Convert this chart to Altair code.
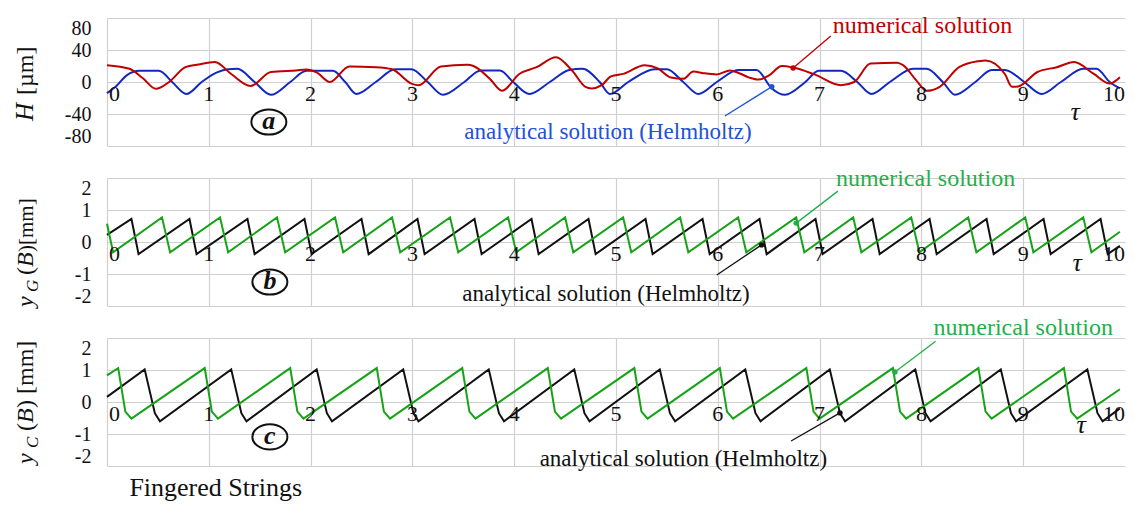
import altair as alt
import pandas as pd

FONT = "Liberation Serif"
RED = "#c00000"
BLUE = "#1028c0"
BLUE_TXT = "#2152d4"
GREEN = "#17a317"
GREEN_TXT = "#1fb04a"
BLACK = "#111111"
GRID = "#d0d0d0"

# ---------------- data ----------------
tick_values = [0, 1, 2, 3, 4, 5, 6, 7, 8, 9, 10]
tick_labels = ["0", "1", "2", "3", "4", "5", "6", "7", "8", "9", "10"]
grid_values = [0, 1, 2, 3, 4, 5, 6, 7, 8, 9]
a_y_ticks = [-80, -40, 0, 40, 80]
bc_y_ticks = [-2, -1, 0, 1, 2]

# panel a : H [um]
a_tau_analytical = [0.00, 0.10, 0.19, 0.32, 0.51, 0.64, 0.78, 0.93, 1.08, 1.19, 1.28, 1.45, 1.61, 1.80,
                    1.96, 2.22, 2.34, 2.45, 2.64, 2.83, 2.99, 3.15, 3.30, 3.51, 3.67, 3.86, 3.99, 4.15,
                    4.35, 4.54, 4.67, 4.84, 4.94, 5.12, 5.38, 5.50, 5.66, 5.81, 5.99, 6.20, 6.38, 6.53,
                    6.66, 6.86, 6.99, 7.21, 7.37, 7.51, 7.69, 7.92, 8.05, 8.21, 8.33, 8.53, 8.69, 8.82,
                    9.01, 9.18, 9.37, 9.59, 9.72, 9.85, 9.95]
a_H_analytical = [-14, -4, 8, 14, 14, 0, -15, 0, 12, 16, 16.5, 0, -16, 0,
                  14, 14, 0, -15, 0, 16, 16, 0, -16, 0, 14.5, 14.5, 0, -15,
                  0, 15, 16.5, 0, -15, 0, 16, 16, 0, -15, 0, 15, 15, -8,
                  -16, 0, 14, 14, 0, -15, 0, 16.5, 16.5, 0, -16, 0, 15, 15,
                  0, -15, 0, 16.5, 16.5, 0, -8]
a_tau_numerical = [0.00, 0.22, 0.35, 0.48, 0.61, 0.77, 0.90, 1.06, 1.22, 1.41, 1.61, 1.86, 1.96, 2.06,
                   2.19, 2.38, 2.64, 2.80, 2.99, 3.06, 3.28, 3.54, 3.60, 3.76, 3.88, 4.05, 4.22, 4.41,
                   4.57, 4.70, 4.76, 4.86, 4.95, 5.08, 5.28, 5.41, 5.54, 5.66, 5.76, 5.86, 5.99, 6.12,
                   6.21, 6.31, 6.40, 6.50, 6.63, 6.74, 6.95, 7.21, 7.34, 7.50, 7.76, 7.82, 7.95, 8.05,
                   8.18, 8.37, 8.56, 8.63, 8.82, 8.89, 8.95, 9.14, 9.33, 9.50, 9.69, 9.85, 9.95]
a_H_numerical = [21, 16.5, 5, -8.5, 0, 18.5, 22, 25, 10, -5, 12.5, 14.5, 15.5, 12,
                 0, 19.5, 18.5, 16, -2, -4, 19.5, 21.5, 20, 4, -11, 10, 18.5, 31,
                 14, -6, -8, -4, 7, 10.5, 21, 17, 5.5, 4, 13, 11, 9.5, 14.5,
                 11, 5.5, 3, 8, 20, 18, 9.5, -4, 0, 23, 24, 21, 2, -11,
                 -6, 18.5, 26, 27, 10, -6, -5.5, 12.5, 18.5, 25, 10.5, -2, 6]

# panel b : y_G(B) [mm]
b_tau_analytical = [0.00, 0.24, 0.31, 0.81, 0.88, 1.38, 1.45, 1.94, 2.01, 2.50, 2.57, 3.05, 3.12,
                    3.61, 3.68, 4.17, 4.24, 4.73, 4.80, 5.29, 5.36, 5.85, 5.92, 6.41, 6.48, 6.96,
                    7.03, 7.52, 7.59, 8.08, 8.15, 8.64, 8.71, 9.20, 9.27, 9.76, 9.83, 9.95]
b_y_analytical = [0.22, 0.72, -0.38, 0.72, -0.38, 0.72, -0.38, 0.72, -0.38, 0.72, -0.38, 0.72, -0.38,
                  0.72, -0.38, 0.72, -0.38, 0.72, -0.38, 0.72, -0.38, 0.72, -0.38, 0.72, -0.38, 0.72,
                  -0.38, 0.72, -0.38, 0.72, -0.38, 0.72, -0.38, 0.72, -0.38, 0.72, -0.38, -0.12]
b_tau_numerical = [0.00, 0.06, 0.54, 0.62, 1.11, 1.19, 1.67, 1.75, 2.24, 2.32, 2.80, 2.88, 3.37,
                   3.45, 3.94, 4.02, 4.50, 4.58, 5.07, 5.15, 5.63, 5.71, 6.20, 6.28, 6.77, 6.85,
                   7.33, 7.41, 7.90, 7.98, 8.46, 8.54, 9.02, 9.10, 9.59, 9.67, 9.95]
b_y_numerical = [0.57, -0.32, 0.77, -0.32, 0.77, -0.32, 0.77, -0.32, 0.77, -0.32, 0.77, -0.32, 0.77,
                 -0.32, 0.77, -0.32, 0.77, -0.32, 0.77, -0.32, 0.77, -0.32, 0.77, -0.32, 0.77, -0.32,
                 0.77, -0.32, 0.77, -0.32, 0.77, -0.32, 0.77, -0.32, 0.77, -0.32, 0.32]

# panel c : y_C(B) [mm]
c_tau_analytical = [0.00, 0.37, 0.47, 0.52, 1.22, 1.32, 1.37, 2.06, 2.16, 2.21, 2.91, 3.01, 3.06,
                    3.75, 3.85, 3.90, 4.59, 4.69, 4.74, 5.43, 5.53, 5.58, 6.27, 6.37, 6.42, 7.10,
                    7.20, 7.25, 7.94, 8.04, 8.09, 8.78, 8.88, 8.93, 9.63, 9.73, 9.78, 9.95]
c_y_analytical = [0.16, 1.02, -0.35, -0.60, 1.02, -0.35, -0.60, 1.02, -0.35, -0.60, 1.02, -0.35, -0.60,
                  1.02, -0.35, -0.60, 1.02, -0.35, -0.60, 1.02, -0.35, -0.60, 1.02, -0.35, -0.60, 1.02,
                  -0.35, -0.60, 1.02, -0.35, -0.60, 1.02, -0.35, -0.60, 1.02, -0.35, -0.60, -0.20]
c_tau_numerical = [0.00, 0.11, 0.18, 0.24, 0.96, 1.03, 1.09, 1.80, 1.87, 1.93, 2.65, 2.72, 2.78,
                   3.49, 3.56, 3.62, 4.33, 4.40, 4.46, 5.18, 5.25, 5.31, 6.02, 6.09, 6.15, 6.87,
                   6.94, 7.00, 7.72, 7.79, 7.85, 8.56, 8.63, 8.69, 9.40, 9.47, 9.53, 9.95]
c_y_numerical = [0.83, 1.06, -0.30, -0.52, 1.06, -0.30, -0.52, 1.06, -0.30, -0.52, 1.06, -0.30, -0.52,
                 1.06, -0.30, -0.52, 1.06, -0.30, -0.52, 1.06, -0.30, -0.52, 1.06, -0.30, -0.52, 1.06,
                 -0.30, -0.52, 1.06, -0.30, -0.52, 1.06, -0.30, -0.52, 1.06, -0.30, -0.52, 0.40]

# annotations (data coordinates: tau, value)
NUM = "numerical solution"
ANA = "analytical solution (Helmholtz)"
a_notes = [(7.13, 70, NUM, RED, 24), (3.51, -63, ANA, BLUE_TXT, 23)]
a_pointers = [(7.11, 57.5, 6.74, 17.5, RED), (6.07, -42.5, 6.53, -6, BLUE_TXT)]
b_notes = [(7.16, 1.97, NUM, GREEN_TXT, 24), (3.49, -1.63, ANA, BLACK, 23)]
b_pointers = [(7.18, 1.59, 6.77, 0.59, GREEN_TXT), (5.99, -1.03, 6.43, -0.09, BLACK)]
c_notes = [(8.12, 2.31, NUM, GREEN_TXT, 24), (4.25, -1.78, ANA, BLACK, 23)]
c_pointers = [(8.14, 1.9, 7.74, 0.94, GREEN_TXT), (6.72, -1.22, 7.20, -0.34, BLACK)]

a_title = [("H", True, 25, 103, 0), ("[µm]", False, 24, 77, 0)]
b_title = [("y", True, 24, 129, 0), ("G", True, 17, 114, 5), ("(", False, 24, 97, 0),
           ("B", True, 24, 89, 0), (")[mm]", False, 21, 74, 0)]
c_title = [("y", True, 24, 126, 0), ("C", True, 17, 110, 5), ("(", False, 24, 93, 0),
           ("B", True, 24, 85, 0), (") [mm]", False, 24, 70, 0)]

W, H = 1018, 128
ELLIPSE = "M-1,0A1,0.72,0,1,1,1,0A1,0.72,0,1,1,-1,0Z"


def panel(y_domain, y_ticks, lines, interp, notes, pointers, letter, letter_pos, tau_pos,
          title_pieces, footer=None):
    xs = alt.Scale(domain=[0, 10], nice=False, zero=False)
    ys = alt.Scale(domain=y_domain, nice=False, zero=False)
    x_axis = alt.Axis(values=grid_values, grid=True, gridColor=GRID, gridWidth=1.2, labels=False,
                      ticks=False, domain=False, title=None)
    y_axis = alt.Axis(values=y_ticks, grid=True, gridColor=GRID, gridWidth=1.2, ticks=False,
                      domain=False, title=None, labelFont=FONT, labelFontSize=20, labelColor=BLACK,
                      labelPadding=16, labelFlush=True, labelOverlap=False,
                      labelExpr="datum.value + ''")

    def X():
        return alt.X("tau:Q", scale=xs, axis=x_axis)

    def Y():
        return alt.Y("v:Q", scale=ys, axis=y_axis)

    layers = []
    for (taus, vals, color) in lines:
        df = pd.DataFrame({"tau": taus, "v": vals})
        layers.append(
            alt.Chart(df).mark_line(color=color, strokeWidth=2, interpolate=interp).encode(
                x=X(), y=Y())
        )

    # x tick labels sitting on the zero line
    tdf = pd.DataFrame({"tau": tick_values, "v": [0] * len(tick_values), "t": tick_labels})
    common = dict(font=FONT, fontSize=22, color=BLACK, baseline="top", dy=2)
    layers.append(alt.Chart(tdf.iloc[:1]).mark_text(align="left", dx=2, **common)
                  .encode(x=X(), y=Y(), text="t:N"))
    layers.append(alt.Chart(tdf.iloc[1:-1]).mark_text(align="center", **common)
                  .encode(x=X(), y=Y(), text="t:N"))
    layers.append(alt.Chart(tdf.iloc[-1:]).mark_text(align="right", **common)
                  .encode(x=X(), y=Y(), text="t:N"))

    # annotations
    for (tx, ty, txt, color, size) in notes:
        ndf = pd.DataFrame({"tau": [tx], "v": [ty], "t": [txt]})
        layers.append(alt.Chart(ndf).mark_text(align="left", baseline="middle", font=FONT,
                                               fontSize=size, color=color)
                      .encode(x=X(), y=Y(), text="t:N"))
    for (x1, y1, x2, y2, color) in pointers:
        pdf = pd.DataFrame({"tau": [x1], "v": [y1], "tau2": [x2], "v2": [y2]})
        layers.append(alt.Chart(pdf).mark_rule(color=color, strokeWidth=1.3)
                      .encode(x=X(), y=Y(), x2="tau2:Q", y2="v2:Q"))
        ddf = pd.DataFrame({"tau": [x2], "v": [y2]})
        layers.append(alt.Chart(ddf).mark_point(filled=True, size=30, color=color, opacity=1)
                      .encode(x=X(), y=Y()))

    # circled panel letter
    cdf = pd.DataFrame({"tau": [letter_pos[0]], "v": [letter_pos[1]], "t": [letter]})
    layers.append(alt.Chart(cdf).mark_point(shape=ELLIPSE, size=35 * 35, filled=False,
                                            strokeWidth=2, color=BLACK, opacity=1)
                  .encode(x=X(), y=Y()))
    layers.append(alt.Chart(cdf).mark_text(font=FONT, fontSize=26, fontStyle="italic",
                                           fontWeight="bold", color=BLACK, baseline="middle",
                                           align="center", dy=-1)
                  .encode(x=X(), y=Y(), text="t:N"))

    # tau label
    tdf2 = pd.DataFrame({"tau": [tau_pos[0]], "v": [tau_pos[1]], "t": ["τ"]})
    layers.append(alt.Chart(tdf2).mark_text(font=FONT, fontSize=26, fontStyle="italic",
                                            color=BLACK, baseline="middle", align="center")
                  .encode(x=X(), y=Y(), text="t:N"))

    # y title composed of pieces (italics / subscripts)
    for (txt, italic, size, rel_y, dx) in title_pieces:
        pdf = pd.DataFrame({"t": [txt]})
        layers.append(alt.Chart(pdf).mark_text(angle=270, align="left", baseline="alphabetic",
                                               font=FONT, fontSize=size,
                                               fontStyle="italic" if italic else "normal",
                                               color=BLACK)
                      .encode(x=alt.value(-74 + dx), y=alt.value(rel_y), text="t:N"))

    if footer is not None:
        fdf = pd.DataFrame({"tau": [footer[0]], "v": [footer[1]], "t": [footer[2]]})
        layers.append(alt.Chart(fdf).mark_text(font=FONT, fontSize=26, color=BLACK,
                                               align="left", baseline="alphabetic")
                      .encode(x=X(), y=Y(), text="t:N"))

    return alt.layer(*layers).properties(width=W, height=H)


pa = panel([-80, 80], a_y_ticks,
           [(a_tau_analytical, a_H_analytical, BLUE), (a_tau_numerical, a_H_numerical, RED)],
           "monotone", a_notes, a_pointers, "a", (1.59, -50), (9.51, -37.5), a_title)
pb = panel([-2, 2], bc_y_ticks,
           [(b_tau_analytical, b_y_analytical, BLACK), (b_tau_numerical, b_y_numerical, GREEN)],
           "linear", b_notes, b_pointers, "b", (1.60, -1.25), (9.53, -0.66), b_title)
pc = panel([-2, 2], bc_y_ticks,
           [(c_tau_analytical, c_y_analytical, BLACK), (c_tau_numerical, c_y_numerical, GREEN)],
           "linear", c_notes, c_pointers, "c", (1.60, -1.09), (9.57, -0.72), c_title,
           footer=(0.22, -2.95, "Fingered Strings"))

chart = alt.vconcat(pa, pb, pc, spacing=32, bounds="flush").properties(
    padding={"left": 5, "top": 6, "right": 2, "bottom": 0}
).configure_view(stroke=None)

chart.save("out.html", embed_options={"renderer": "svg", "actions": False})
